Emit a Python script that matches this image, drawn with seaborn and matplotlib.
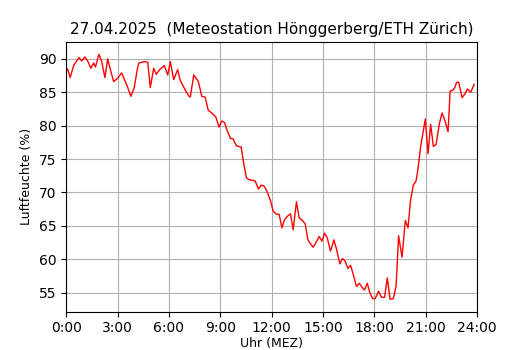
import matplotlib
matplotlib.use("Agg")
import matplotlib.pyplot as plt
import seaborn as sns
import pandas as pd

hours = [0.00, 0.08, 0.23, 0.43, 0.74, 0.90, 1.09, 1.25, 1.44, 1.60, 1.71, 1.91, 2.07, 2.26, 2.42,
         2.61, 2.77, 3.00, 3.24, 3.55, 3.78, 3.97, 4.17, 4.25, 4.56, 4.76, 4.91, 5.11, 5.26, 5.46,
         5.73, 5.93, 6.08, 6.28, 6.51, 6.66, 6.94, 7.17, 7.25, 7.45, 7.72, 7.92, 8.11, 8.30, 8.50,
         8.74, 8.93, 9.09, 9.24, 9.40, 9.59, 9.75, 9.94, 10.22, 10.37, 10.53, 10.68, 10.92, 11.04,
         11.23, 11.39, 11.58, 11.74, 11.93, 12.09, 12.25, 12.44, 12.60, 12.75, 12.95, 13.10, 13.26,
         13.45, 13.61, 13.80, 13.96, 14.12, 14.27, 14.43, 14.59, 14.78, 14.94, 15.09, 15.25, 15.44,
         15.64, 15.79, 15.99, 16.14, 16.30, 16.46, 16.61, 16.77, 16.96, 17.12, 17.28, 17.43, 17.59,
         17.75, 17.90, 18.05, 18.25, 18.41, 18.60, 18.76, 18.92, 19.11, 19.27, 19.42, 19.62, 19.81,
         19.97, 20.12, 20.28, 20.44, 20.55, 20.71, 20.98, 21.14, 21.29, 21.45, 21.61, 21.80, 21.96,
         22.11, 22.31, 22.43, 22.58, 22.70, 22.81, 22.93, 23.13, 23.28, 23.44, 23.63, 23.83]

humidity = [88.2, 88.5, 87.2, 89.0, 90.2, 89.7, 90.3, 89.7, 88.6, 89.4, 88.8, 90.7, 89.6, 87.2, 90.0,
            88.1, 86.6, 87.1, 87.9, 86.0, 84.4, 85.7, 88.7, 89.4, 89.6, 89.5, 85.7, 88.6, 87.7, 88.4,
            89.0, 87.6, 89.6, 86.9, 88.4, 86.8, 85.4, 84.4, 84.3, 87.6, 86.6, 84.4, 84.3, 82.3, 81.9,
            81.3, 79.8, 80.7, 80.5, 79.3, 78.1, 78.0, 77.0, 76.8, 74.3, 72.2, 71.9, 71.8, 71.7,
            70.5, 71.1, 70.9, 70.1, 68.8, 67.2, 66.8, 66.7, 64.7, 65.9, 66.5, 66.8, 64.4,
            68.6, 66.2, 65.8, 65.3, 62.9, 62.3, 61.8, 62.5, 63.4, 62.7, 63.9, 63.2, 61.2,
            62.9, 61.5, 59.3, 60.1, 59.7, 58.6, 59.1, 57.7, 55.9, 56.4, 55.8, 55.4, 56.4,
            54.9, 54.1, 54.1, 55.2, 54.3, 54.3, 57.2, 54.0, 54.1, 55.9, 63.5, 60.3, 65.8,
            64.7, 68.9, 71.1, 71.7, 73.5, 76.9, 81.0, 75.8, 80.2, 76.9, 77.2, 80.3, 81.9,
            80.9, 79.1, 85.2, 85.3, 85.7, 86.5, 86.5, 84.2, 84.7, 85.5, 85.0, 86.2]

tick_hours = [0, 3, 6, 9, 12, 15, 18, 21, 24]
tick_labels = ["0:00", "3:00", "6:00", "9:00", "12:00", "15:00", "18:00", "21:00", "24:00"]

df = pd.DataFrame({"Stunde": hours, "Luftfeuchte": humidity})

fig, ax = plt.subplots(figsize=(5.3, 3.5), dpi=100)
fig.subplots_adjust(left=0.125, right=0.9, top=0.88, bottom=0.11)
sns.lineplot(data=df, x="Stunde", y="Luftfeuchte", ax=ax, color="red", linewidth=1.0,
             estimator=None, sort=False)
ax.set_xlim(0, 24)
ax.set_xticks(tick_hours)
ax.set_xticklabels(tick_labels)
ax.grid(True, color="#b0b0b0", linewidth=0.8)
ax.set_axisbelow(True)
ax.set_xlabel("Uhr (MEZ)", fontsize=9, labelpad=1)
ax.set_ylabel("Luftfeuchte (%)", fontsize=9)
ax.set_title("27.04.2025  (Meteostation Hönggerberg/ETH Zürich)", fontsize=11)
fig.savefig("out.png", dpi=100)
